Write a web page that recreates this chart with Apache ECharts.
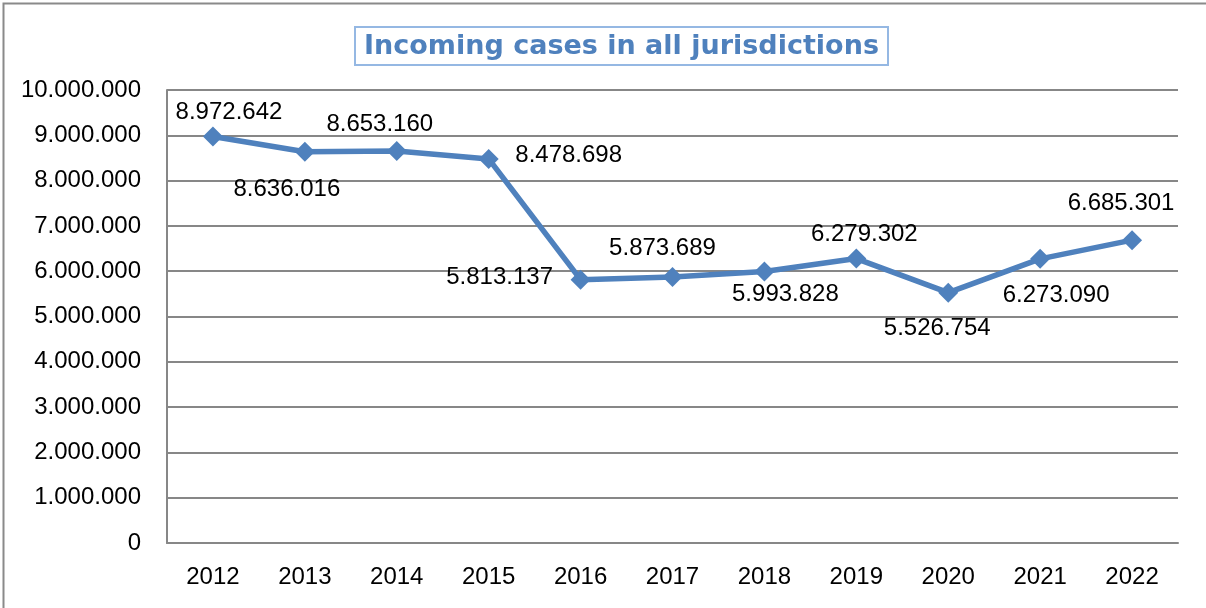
<!DOCTYPE html>
<html>
<head>
<meta charset="utf-8">
<script src="https://cdn.jsdelivr.net/npm/echarts@6/dist/echarts.min.js"></script>
<style>
  html, body { margin: 0; padding: 0; background: #fff; }
  #main { width: 1206px; height: 608px; }
</style>
</head>
<body>
<div id="main"></div>
<script>
const years = ["2012", "2013", "2014", "2015", "2016", "2017", "2018", "2019", "2020", "2021", "2022"];
const incomingCases = [8972642, 8636016, 8653160, 8478698, 5813137, 5873689, 5993828, 6279302, 5526754, 6273090, 6685301];
const yTicks = [0, 1000000, 2000000, 3000000, 4000000, 5000000, 6000000, 7000000, 8000000, 9000000, 10000000];

// label offsets from each point (px), the labels were hand-placed in the original
const labelOffsets = [
  [16, -24], [-18, 38], [-17, -27], [80, -4], [-81, -2], [-10, -29],
  [21, 23], [8, -24], [-11, 36], [16, 37], [-11, -37]
];

const fmt = (v) => String(v).replace(/\B(?=(\d{3})+(?!\d))/g, ".");

const chart = echarts.init(document.getElementById("main"));

const blue = "#4F81BD";
const grey = "#878787";
const font = "Liberation Sans";

const option = {
  animation: false,
  backgroundColor: "#fff",
  graphic: [
    {
      type: "rect",
      shape: { x: 3.5, y: 3.5, width: 1220, height: 620 },
      style: { fill: "none", stroke: "#8a8a8a", lineWidth: 2 },
      silent: true,
    },
  ],
  title: {
    text: "Incoming cases in all jurisdictions",
    left: 355,
    top: 27,
    padding: [6, 9, 5, 9],
    borderColor: "#95B8E3",
    borderWidth: 2,
    textStyle: {
      fontFamily: "DejaVu Sans",
      fontWeight: "bold",
      fontSize: 27,
      color: blue,
    },
  },
  grid: { left: 167, right: 28, top: 90, bottom: 65 },
  xAxis: {
    type: "category",
    data: years,
    boundaryGap: true,
    axisTick: { show: false },
    axisLine: { lineStyle: { color: grey, width: 2 } },
    axisLabel: { color: "#000", fontFamily: font, fontSize: 24, margin: 22 },
  },
  yAxis: {
    type: "value",
    min: yTicks[0],
    max: yTicks[yTicks.length - 1],
    interval: 1000000,
    axisLine: { show: true, lineStyle: { color: grey, width: 2 } },
    axisTick: { show: false },
    splitLine: { lineStyle: { color: grey, width: 2 } },
    axisLabel: {
      color: "#000",
      fontFamily: font,
      fontSize: 24,
      margin: 26,
      formatter: (v) => fmt(v),
    },
  },
  series: [
    {
      type: "line",
      data: incomingCases.map((v, i) => ({
        value: v,
        label: { offset: labelOffsets[i] },
      })),
      symbol: "diamond",
      symbolSize: [20, 20],
      lineStyle: { color: blue, width: 5.5 },
      itemStyle: { color: blue },
      label: {
        show: true,
        position: "inside",
        color: "#000",
        fontFamily: font,
        fontSize: 24,
        formatter: (p) => fmt(p.value),
      },
    },
  ],
};

chart.setOption(option);
</script>
</body>
</html>
